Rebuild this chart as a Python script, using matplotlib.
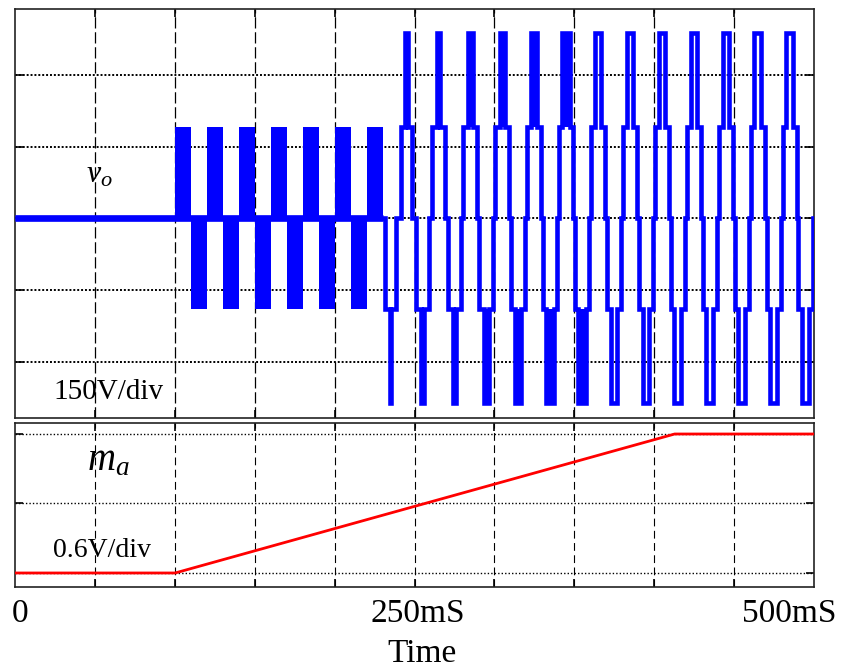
import matplotlib
matplotlib.use('Agg')
import matplotlib.pyplot as plt
import matplotlib.transforms as mtransforms

plt.rcParams['font.family'] = ['Liberation Serif', 'DejaVu Serif']
plt.rcParams['mathtext.fontset'] = 'custom'
plt.rcParams['mathtext.rm'] = 'Liberation Serif'
plt.rcParams['mathtext.it'] = 'Liberation Serif:italic'

# ---------------- data ----------------
half_ms = 10                     # half period of the 50 Hz output
level1_v = 190                   # first voltage step (V)
level2_v = 387                   # second voltage step (V)

# half cycles with PWM switching between 0 and +/-level1 (solid blocks)
pwm_start_ms = [100, 110, 120, 130, 140, 150, 160, 170, 180, 190, 200, 210, 220]
pwm_sign = [1, -1, 1, -1, 1, -1, 1, -1, 1, -1, 1, -1, 1]

# stepped half cycles: start, sign, half-width of level-1 part, half-width of level-2 part
step_start_ms = [230, 240, 250, 260, 270, 280, 290, 300, 310, 320, 330, 340, 350,
                 360, 370, 380, 390, 400, 410, 420, 430, 440, 450, 460, 470, 480, 490]
step_sign = [-1, 1, -1, 1, -1, 1, -1, 1, -1, 1, -1, 1, -1,
             1, -1, 1, -1, 1, -1, 1, -1, 1, -1, 1, -1, 1, -1]
step_a1_ms = [3.6, 3.4, 3.8, 4.0, 4.3, 4.4, 4.4, 4.4, 4.4, 4.4, 4.4, 4.4, 4.4,
              4.4, 4.4, 4.4, 4.4, 4.4, 4.4, 4.4, 4.4, 4.4, 4.4, 4.4, 4.4, 4.4, 4.4]
step_a2_ms = [0.15, 0.7, 1.0, 0.9, 1.1, 1.4, 1.7, 1.7, 2.0, 2.0, 2.3, 2.4, 2.3,
              1.8, 1.8, 1.9, 2.1, 2.0, 2.1, 2.0, 2.1, 2.0, 2.0, 2.0, 2.0, 2.0, 2.0]
step_band = [True] * 13 + [False] * 14   # level-2 part drawn as switching band

# modulation index ramp
ma_t_ms = [0, 100, 413, 500]
ma_val = [0.0, 0.0, 1.2, 1.2]

volt_grid = [-300, -150, 0, 150, 300]
ma_grid = [0.0, 0.6, 1.2]
time_grid = [50, 100, 150, 200, 250, 300, 350, 400, 450]

tick_labels = ['0', '250mS', '500mS']
tick_label_pos_ms = [3, 252, 485]

BLUE = '#0000FF'
RED = '#FF0000'

# ---------------- figure ----------------
fig = plt.figure(figsize=(8.42, 6.70), dpi=100)
ax1 = fig.add_axes([15.5 / 842, 1 - 418 / 670, 798 / 842, 409 / 670])
ax2 = fig.add_axes([15.5 / 842, 1 - 587 / 670, 798 / 842, 164 / 670])

# ---- top: output voltage ----
trace_t = [0, step_start_ms[0]]
trace_v = [0, 0]
for st, s, a1, a2 in zip(step_start_ms, step_sign, step_a1_ms, step_a2_ms):
    c = st + half_ms / 2
    trace_t += [c - a1, c - a1, c - a2, c - a2, c + a2, c + a2, c + a1, c + a1]
    trace_v += [0, s * level1_v, s * level1_v, s * level2_v,
                s * level2_v, s * level1_v, s * level1_v, 0]
trace_t.append(500)
trace_v.append(0)

for st, s in zip(pwm_start_ms, pwm_sign):
    ax1.fill_between([st, st + half_ms], 0, s * level1_v, color=BLUE, lw=0, zorder=3)
for st, s, a2, b in zip(step_start_ms, step_sign, step_a2_ms, step_band):
    if b:
        c = st + half_ms / 2
        ax1.fill_between([c - a2, c + a2], s * level1_v, s * level2_v,
                         color=BLUE, lw=0, zorder=3)
ax1.plot(trace_t, trace_v, color=BLUE, lw=3.3, zorder=4,
         solid_joinstyle='miter', solid_capstyle='butt')
ax1.plot(trace_t[:2], trace_v[:2], color=BLUE, lw=4.8, zorder=4,
         solid_capstyle='butt')

ax1.set_xlim(0, 500)
ax1.set_ylim(-418, 438)
ax1.set_yticks(volt_grid)
ax1.set_xticks(time_grid)
ax1.grid(axis='y', color='black', lw=1.4, linestyle=(0, (1, 1)), zorder=1)
ax1.grid(axis='x', color='black', lw=0.9, linestyle=(0, (9, 3)), zorder=1)
ax1.set_axisbelow(True)

ax1.text(44.0, 74, r'$v_o$', fontsize=23, va='baseline', ha='left', zorder=6)
ax1.text(23.5, -378, '150V/div', fontsize=21, va='baseline', ha='left', zorder=6)

# ---- bottom: modulation index ----
ax2.plot(ma_t_ms, ma_val, color=RED, lw=2.0, zorder=4)
ax2.set_xlim(0, 500)
ax2.set_ylim(-0.121, 1.295)
ax2.set_yticks(ma_grid)
ax2.set_xticks(time_grid)
ax2.grid(axis='y', color='black', lw=1.0, linestyle=(0, (1, 1.5)), zorder=1)
ax2.grid(axis='x', color='black', lw=0.8, linestyle=(0, (7, 4)), zorder=1)
ax2.set_axisbelow(True)

ax2.text(44.8, 0.889, r'$m_a$', fontsize=28, va='baseline', ha='left', zorder=6)
ax2.text(23.5, 0.138, '0.6V/div', fontsize=20, va='baseline', ha='left', zorder=6)

for ax in (ax1, ax2):
    ax.tick_params(which='both', direction='in', length=6, width=1.2,
                   top=True, right=True, bottom=True, left=True,
                   labelbottom=False, labelleft=False)
    for sp in ax.spines.values():
        sp.set_color('#222222')
        sp.set_linewidth(1.2)

# time axis labels
trans = mtransforms.blended_transform_factory(ax2.transData, fig.transFigure)
for pos, lab in zip(tick_label_pos_ms, tick_labels):
    ax2.text(pos, 1 - 622 / 670, lab, transform=trans, fontsize=24,
             ha='center', va='baseline', clip_on=False)
fig.text(422 / 842, 1 - 662 / 670, 'Time', fontsize=24, ha='center', va='baseline')

fig.savefig('out.png', dpi=100)
